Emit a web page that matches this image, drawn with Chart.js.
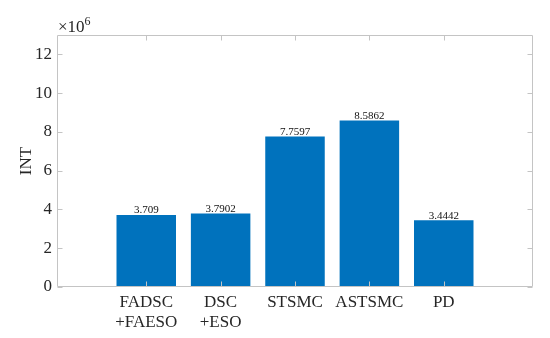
<!DOCTYPE html>
<html>
<head>
<meta charset="utf-8">
<script src="https://cdn.jsdelivr.net/npm/chart.js@4.4.1/dist/chart.umd.min.js"></script>
<style>
html,body{margin:0;padding:0;background:#fff;}
#wrap{width:550px;height:338px;position:relative;}
</style>
</head>
<body>
<div id="wrap"><canvas id="c" width="550" height="338"></canvas></div>
<script>
const categories = ["FADSC\n+FAESO", "DSC\n+ESO", "STSMC", "ASTSMC", "PD"];
const values = [3.709, 3.7902, 7.7597, 8.5862, 3.4442];
const valueLabels = ["3.709", "3.7902", "7.7597", "8.5862", "3.4442"];
const yTicks = [0, 2, 4, 6, 8, 10, 12];
const yMax = 13;
const xMin = -0.2, xMax = 6.2;
const multiplierBase = "\u00d710";
const multiplierExp = "6";
const yTitle = "INT";

const FONT = "'Liberation Serif','Times New Roman',serif";
const AXIS = "#c4c4c4";
const TXT = "#262626";
const BAR = "#0072BD";

const boxPlugin = {
  id: 'box',
  afterDraw(chart) {
    const ctx = chart.ctx, a = chart.chartArea;
    const xs = chart.scales.x, ys = chart.scales.y;
    ctx.save();
    ctx.strokeStyle = AXIS;
    ctx.lineWidth = 1;
    const L = Math.round(a.left) + 0.5, R = Math.round(a.right) - 0.5;
    const T = Math.round(a.top) + 0.5, B = Math.round(a.bottom) - 0.5;
    ctx.beginPath();
    ctx.rect(L, T, R - L, B - T);
    ctx.stroke();
    ctx.beginPath();
    yTicks.forEach(v => {
      const y = Math.round(ys.getPixelForValue(v)) + 0.5;
      ctx.moveTo(L, y); ctx.lineTo(L + 5, y);
      ctx.moveTo(R, y); ctx.lineTo(R - 5, y);
    });
    categories.forEach((c, i) => {
      const x = Math.round(xs.getPixelForValue(i + 1)) + 0.5;
      ctx.moveTo(x, B); ctx.lineTo(x, B - 5);
      ctx.moveTo(x, T); ctx.lineTo(x, T + 5);
    });
    ctx.stroke();
    // multiplier
    ctx.fillStyle = TXT;
    ctx.textBaseline = 'alphabetic';
    ctx.textAlign = 'left';
    ctx.font = "17px " + FONT;
    ctx.fillText(multiplierBase, a.left + 1, a.top - 3);
    const w = ctx.measureText(multiplierBase).width;
    ctx.font = "12px " + FONT;
    ctx.fillText(multiplierExp, a.left + 1 + w, a.top - 10);
    ctx.restore();
  },
  afterDatasetsDraw(chart) {
    const ctx = chart.ctx;
    const meta = chart.getDatasetMeta(0);
    ctx.save();
    ctx.fillStyle = "#111";
    ctx.font = "11px " + FONT;
    ctx.textAlign = 'center';
    ctx.textBaseline = 'bottom';
    meta.data.forEach((bar, i) => {
      ctx.fillText(valueLabels[i], bar.x, bar.y + 1);
    });
    ctx.restore();
  }
};

new Chart(document.getElementById('c'), {
  type: 'bar',
  data: {
    datasets: [{
      data: values.map((v, i) => ({x: i + 1, y: v})),
      backgroundColor: BAR,
      borderWidth: 0,
      categoryPercentage: 1,
      barPercentage: 0.8
    }]
  },
  options: {
    responsive: false,
    animation: false,
    events: [],
    layout: {padding: {top: 35, right: 17, left: 0, bottom: 0}},
    plugins: {legend: {display: false}, tooltip: {enabled: false}},
    scales: {
      x: {
        type: 'linear',
        min: xMin, max: xMax,
        offset: false,
        grid: {display: false, drawTicks: false},
        border: {display: false},
        afterBuildTicks(scale) { scale.ticks = categories.map((c, i) => ({value: i + 1})); },
        afterFit(scale) { scale.height = 51; },
        ticks: {
          autoSkip: false,
          maxRotation: 0,
          padding: 5,
          color: TXT,
          font: {family: FONT, size: 17, lineHeight: 1.2},
          callback: (v) => { const c = categories[Math.round(v) - 1]; return c ? c.split("\n") : ""; }
        }
      },
      y: {
        min: 0, max: yMax,
        grid: {display: false, drawTicks: false},
        border: {display: false},
        afterBuildTicks(scale) { scale.ticks = yTicks.map(v => ({value: v})); },
        afterFit(scale) { scale.width = 57; },
        ticks: {
          padding: 5,
          color: TXT,
          font: {family: FONT, size: 17}
        },
        title: {
          display: true,
          text: yTitle,
          color: TXT,
          font: {family: FONT, size: 17},
          padding: {top: 16, bottom: 0}
        }
      }
    }
  },
  plugins: [boxPlugin]
});
</script>
</body>
</html>
